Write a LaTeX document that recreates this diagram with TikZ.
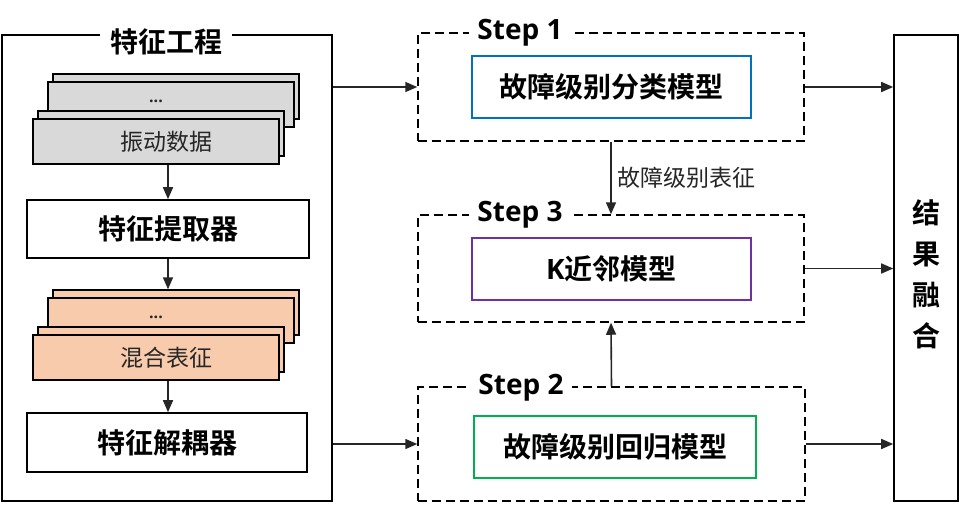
\documentclass[tikz,border=0pt]{standalone}
\usepackage{fontspec}
\setmainfont{Open Sans}
\newfontfamily\cjk{Noto Sans CJK SC}[BoldFont={Noto Sans CJK SC Bold}]
\usetikzlibrary{arrows.meta}
\definecolor{gfill}{HTML}{D9D9D9}
\definecolor{ofill}{HTML}{F8CBAD}
\definecolor{bblue}{HTML}{0070C0}
\definecolor{bpurple}{HTML}{7030A0}
\definecolor{bgreen}{HTML}{00B050}
\definecolor{txt}{HTML}{262626}
\tikzset{
  rbox/.style={draw=black, line width=1.6pt, inner sep=0pt},
  stk/.style={draw=black, line width=1.4pt, inner sep=0pt, minimum width=246pt, minimum height=45pt},
  dbox/.style={draw=black, line width=1.5pt, dash pattern=on 9pt off 5pt, inner sep=0pt},
  mbox/.style={line width=1.8pt, inner sep=0pt, fill=white},
  arr/.style={draw=black!85, line width=1.6pt, -{Triangle[length=12pt,width=10pt]}},
  bold28/.style={font=\cjk\bfseries\fontsize{28}{32}\selectfont, text=black},
  reg24/.style={font=\cjk\fontsize{23}{28}\selectfont, text=txt},
  steplbl/.style={fill=white, inner xsep=8pt, inner ysep=2pt, font=\bfseries\fontsize{28}{32}\selectfont, text=black}
}
\begin{document}
\begin{tikzpicture}[x=1pt,y=-1pt]
\useasboundingbox[fill=white] (0,0) rectangle (960,504);
% left frame
\node[rbox, minimum width=330pt, minimum height=466pt] (fe) at (167,268) {};
\node[fill=white, inner xsep=10pt, inner ysep=3pt, bold28] (ttl) at (166,42) {特征工程};
% gray stack
\node[stk, fill=gfill] (g1) at (176,96.5) {};
\node[stk, fill=gfill] (g2) at (171,104.5) {};
\node[stk, fill=gfill] (g3) at (161,133.5) {};
\node[stk, fill=gfill] (g4) at (156,141.5) {};
\node[font=\bfseries\fontsize{16}{18}\selectfont, text=txt] (gd) at (156,101) {...};
\node[reg24] (gt) at (166,142) {振动数据};
% extractor
\node[rbox, fill=white, minimum width=282pt, minimum height=58pt, bold28] (ext) at (168,229) {特征提取器};
% orange stack
\node[stk, fill=ofill] (o1) at (176,312.5) {};
\node[stk, fill=ofill] (o2) at (171,320.5) {};
\node[stk, fill=ofill] (o3) at (161,349.5) {};
\node[stk, fill=ofill] (o4) at (156,357.5) {};
\node[font=\bfseries\fontsize{16}{18}\selectfont, text=txt] (od) at (156,317) {...};
\node[reg24] (ot) at (166,358) {混合表征};
% decoupler
\node[rbox, fill=white, minimum width=280pt, minimum height=59pt, bold28] (dec) at (167,442.5) {特征解耦器};
% left arrows
\draw[arr] (ext.north |- g4.south) -- (ext.north);
\draw[arr] (ext.south) -- (ext.south |- o1.north);
\draw[arr] (ext.south |- o4.south) -- (ext.south |- dec.north);
% step boxes
\node[dbox, minimum width=386pt, minimum height=108pt] (s1) at (611,87) {};
\node[dbox, minimum width=386pt, minimum height=107pt] (s3) at (611,268.5) {};
\node[dbox, minimum width=387pt, minimum height=114pt] (s2) at (611.5,444) {};
\node[steplbl] (l1) at (520,33) {Step 1};
\node[steplbl] (l3) at (520,215) {Step 3};
\node[steplbl] (l2) at (521,388) {Step 2};
% model boxes
\node[mbox, draw=bblue, minimum width=279pt, minimum height=62pt, bold28] (m1) at (611.5,87) {故障级别分类模型};
\node[mbox, draw=bpurple, minimum width=279pt, minimum height=62pt, bold28] (m3) at (611.5,269) {{\bfseries\fontspec{Open Sans}K}近邻模型};
\node[mbox, draw=bgreen, minimum width=281.5pt, minimum height=62pt, bold28] (m2) at (615,447) {故障级别回归模型};
% fusion
\node[rbox, minimum width=64pt, minimum height=466pt] (fus) at (926,268) {};
\node[font=\cjk\bfseries\fontsize{28}{41}\selectfont, align=center] (fust) at (926,274) {结\\果\\融\\合};
% connectors
\draw[arr] (fe.east |- s1.west) -- (s1.west);
\draw[arr] (fe.east |- s2.west) -- (s2.west);
\draw[arr] (s1.east) -- (fus.west |- s1.east);
\draw[arr] (s3.east) -- (fus.west |- s3.east);
\draw[arr] (s2.east) -- (fus.west |- s2.east);
\draw[arr] (s1.south) -- (s3.north) node[pos=0.5, right=2pt, reg24] (lbl) {故障级别表征};
\draw[arr] (s2.north) -- (s3.south);
\end{tikzpicture}
\end{document}
